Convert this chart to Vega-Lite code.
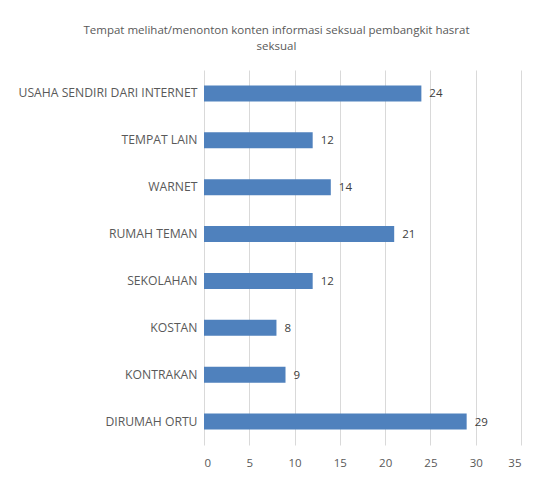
{
  "$schema": "https://vega.github.io/schema/vega-lite/v6.json",
  "autosize": {"type": "none"},
  "padding": {"left": 204, "top": 70, "right": 12, "bottom": 32},
  "width": 317,
  "height": 375,
  "background": "white",
  "config": {
    "view": {"stroke": null},
    "font": "Open Sans"
  },
  "title": {
    "text": ["Tempat melihat/menonton  konten informasi seksual pembangkit hasrat", "seksual"],
    "anchor": "middle",
    "frame": "group",
    "dx": -86,
    "offset": 18,
    "fontSize": 11.5,
    "fontWeight": "normal",
    "color": "#595959",
    "lineHeight": 16
  },
  "data": {
    "values": [
      {"tempat": "USAHA SENDIRI  DARI INTERNET", "jumlah": 24},
      {"tempat": "TEMPAT LAIN", "jumlah": 12},
      {"tempat": "WARNET", "jumlah": 14},
      {"tempat": "RUMAH TEMAN", "jumlah": 21},
      {"tempat": "SEKOLAHAN", "jumlah": 12},
      {"tempat": "KOSTAN", "jumlah": 8},
      {"tempat": "KONTRAKAN", "jumlah": 9},
      {"tempat": "DIRUMAH ORTU", "jumlah": 29}
    ]
  },
  "encoding": {
    "y": {
      "field": "tempat",
      "type": "nominal",
      "sort": null,
      "scale": {"paddingInner": 0.66, "paddingOuter": 0.33},
      "axis": {
        "title": null,
        "domain": false,
        "ticks": false,
        "labelPadding": 7,
        "labelFontSize": 12.2,
        "labelColor": "#595959",
        "labelLimit": 300
      }
    },
    "x": {
      "field": "jumlah",
      "type": "quantitative",
      "scale": {"domain": [0, 35], "nice": false},
      "axis": {
        "title": null,
        "values": [0, 5, 10, 15, 20, 25, 30, 35],
        "domain": false,
        "ticks": false,
        "grid": true,
        "gridColor": "#d9d9d9",
        "labelPadding": 12,
        "labelFontSize": 11.5,
        "labelColor": "#595959"
      }
    }
  },
  "layer": [
    {"mark": {"type": "bar", "color": "#4f81bd"}},
    {
      "mark": {"type": "text", "align": "left", "baseline": "middle", "dx": 8, "dy": 1, "fontSize": 11.5, "color": "#404040"},
      "encoding": {"text": {"field": "jumlah", "type": "quantitative"}}
    }
  ]
}
